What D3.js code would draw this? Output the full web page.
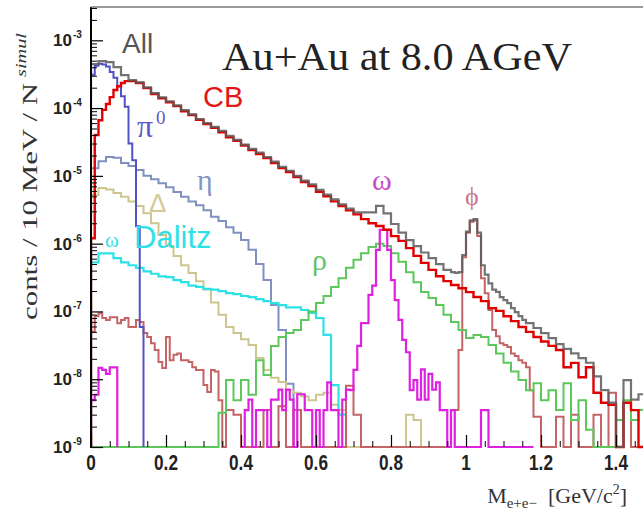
<!DOCTYPE html>
<html><head><meta charset="utf-8">
<script src="https://cdn.jsdelivr.net/npm/d3@7"></script>
<style>body{margin:0;background:#fff} svg{display:block}</style>
</head><body><svg id="c" width="643" height="514"></svg>
<script>
// ---------------- data (bin contents, dN/dM per 10 MeV / Nsimul) ----------------
// "All" : 0.02 GeV bins from 0.00, 0.01 GeV bins from 0.96, 0.02 GeV bins from 1.16
const allA = [4.45e-4,4.93e-4,4.77e-4,4.03e-4,3.07e-4,2.59e-4,2.4e-4,2.02e-4,1.66e-4,1.44e-4,1.26e-4,1.1e-4,9.3e-5,8.1e-5,6.9e-5,6.0e-5,5.3e-5,4.6e-5,3.9e-5,3.4e-5,2.9e-5,2.5e-5,2.2e-5,1.9e-5,1.62e-5,1.36e-5,1.19e-5,1.0e-5,8.5e-6,7.5e-6,6.2e-6,5.3e-6,4.5e-6,3.8e-6,3.3e-6,2.9e-6,2.9e-6,2.9e-6,3.6e-6,2.8e-6,1.95e-6,1.45e-6,1.13e-6,9.2e-7,7.4e-7,6.1e-7,5.0e-7,4.1e-7];
const allB = [3.8e-7,3.7e-7,3.8e-7,6.8e-7,1.5e-6,2.2e-6,2.3e-6,1.45e-6,4.8e-7,3.5e-7,2.6e-7,2.1e-7,1.94e-7,1.63e-7,1.47e-7,1.33e-7,1.12e-7,9.8e-8,8.5e-8,7.5e-8];
const allC = [6.7e-8,5.7e-8,4.8e-8,4.05e-8,3.3e-8,2.8e-8,2.4e-8,2.05e-8,1.75e-8,1.1e-8,6.9e-9,4.5e-9,0,9.7e-9,5e-9,6e-9];
// "CB" : 0.01 GeV bins from 0.00, then 0.02 GeV bins from 0.12
const cbA = [1.2e-6,4.0e-5,6.6e-5,9.4e-5,1.15e-4,1.45e-4,1.85e-4,2.1e-4,2.35e-4,2.5e-4,2.5e-4,2.5e-4];
const cbB = [2.34e-4,1.97e-4,1.61e-4,1.40e-4,1.22e-4,1.07e-4,9.0e-5,7.9e-5,6.7e-5,5.8e-5,5.1e-5,4.4e-5,3.7e-5,3.3e-5,2.8e-5,2.4e-5,2.1e-5,1.83e-5,1.55e-5,1.30e-5,1.14e-5,9.6e-6,8.1e-6,7.1e-6,5.8e-6,5.0e-6,4.2e-6,3.6e-6,3.1e-6,2.7e-6,2.3e-6,2.0e-6,1.82e-6,1.6e-6,1.29e-6,1.1e-6,8.6e-7,6.6e-7,5.2e-7,4.1e-7,3.3e-7,2.8e-7,2.45e-7,2.2e-7,1.93e-7,1.63e-7,1.42e-7,1.12e-7,1.02e-7,8.5e-8,7.2e-8,5.9e-8,5.0e-8,4.2e-8,3.6e-8,3.1e-8,2.7e-8,1.5e-8,1.74e-8,1.07e-8,1.5e-8,6.3e-9,4.5e-9,4.2e-9,0,4.5e-9,3.5e-9,0];
// pi0 : 0.01 GeV bins from 0.00
const pi0 = [3.1e-4,4.2e-4,4.5e-4,4.4e-4,4.1e-4,3.4e-4,2.8e-4,2.1e-4,1.5e-4,1.05e-4,3.0e-5,1.7e-5,1.8e-6,5.9e-8];
// eta : 0.02 GeV bins from 0.00
const eta = [1.3e-5,1.65e-5,1.9e-5,1.85e-5,1.55e-5,1.4e-5,1.22e-5,1.0e-5,8.9e-6,7.8e-6,6.8e-6,5.8e-6,4.9e-6,4.2e-6,3.7e-6,3.1e-6,2.5e-6,2.15e-6,1.75e-6,1.45e-6,1.13e-6,8.1e-7,5.0e-7,2.9e-7,1.24e-7,5.3e-8,8.6e-9];
// Delta : 0.02 GeV bins from 0.00
const delta = [5.2e-6,6.6e-6,6.3e-6,5.6e-6,4.9e-6,4.2e-6,3.6e-6,2.8e-6,2.0e-6,1.34e-6,9.2e-7,6.6e-7,4.8e-7,3.7e-7,2.8e-7,2.1e-7,1.36e-7,8.9e-8,5.9e-8,4.8e-8,3.9e-8,3.2e-8,2.05e-8,1.37e-8,1.05e-8,9.1e-9,6.9e-9,6.3e-9,5.6e-9,4.9e-9,5.9e-9,6.3e-9,4.2e-9,3.5e-9,0,0,0,0,0,0,0,0,3e-9,2.5e-9];
// omega Dalitz : 0.02 GeV bins from 0.00
const omegaDalitz = [5.3e-7,7.2e-7,7.2e-7,6.1e-7,5.3e-7,4.8e-7,4.4e-7,3.9e-7,3.6e-7,3.3e-7,3.2e-7,2.9e-7,2.7e-7,2.4e-7,2.3e-7,2.15e-7,2.1e-7,2.0e-7,1.86e-7,1.8e-7,1.69e-7,1.63e-7,1.52e-7,1.42e-7,1.33e-7,1.24e-7,1.15e-7,1.15e-7,1.05e-7,9.5e-8,8.0e-8,4.5e-8,8.2e-9,3.0e-9];
// rho : 0.02 GeV bins from 0.00
const rho = [0,0,0,0,0,0,0,0,0,0,0,0,0,0,0,0,0,3.2e-9,9.7e-9,4.9e-9,9.7e-9,5.9e-9,1.9e-8,1.15e-8,3.1e-8,4.2e-8,4.8e-8,5.3e-8,7.5e-8,1.0e-7,1.33e-7,1.69e-7,2.3e-7,3.1e-7,4.4e-7,5.8e-7,7.2e-7,8.9e-7,1.0e-6,9.2e-7,7.2e-7,5.4e-7,3.8e-7,2.7e-7,1.94e-7,1.58e-7,1.24e-7,8.9e-8,7.0e-8,5.3e-8,4.05e-8,4.5e-8,4.2e-8,3.2e-8,2.4e-8,1.75e-8,1.3e-8,9.7e-9,6.9e-9,8.7e-9,4.9e-9,6.9e-9,3.5e-9,8.7e-9,2.5e-9,4.9e-9,1.8e-9,0,0,0,2.5e-9,4.9e-9,2.5e-9,3.5e-9];
// omega : 0.01 GeV bins from 0.00 (low part) and from 0.40
const omegaLow = [4.9e-9,5.9e-9,1.47e-8,1.37e-8,1.2e-8,1.5e-8,1.5e-8];
const omegaMain = [0,3.5e-9,5e-9,0,3.5e-9,3.5e-9,3.5e-9,0,5e-9,5e-9,7e-9,3.5e-9,7e-9,5e-9,0,6e-9,6e-9,3.5e-9,3.5e-9,0,3.5e-9,0,3.5e-9,9e-9,3.5e-9,3.5e-9,0,5e-9,7e-9,6.9e-9,1.37e-8,3.1e-8,6.7e-8,6.7e-8,1.75e-7,2.4e-7,8.1e-7,1.6e-6,1.6e-6,8.1e-7,2.9e-7,1.47e-7,7.5e-8,3.8e-8,2.5e-8,6.9e-9,9.7e-9,5e-9,1.4e-8,5e-9,1.2e-8,7e-9,9e-9,3.5e-9,3.5e-9,0,3.5e-9,0,0,0,0,0,0,0,3.5e-9,3.5e-9,0,0,0,0,0,0,0,0,0,0,0,0];
// phi : 0.01 GeV bins from 0.00, 0.02 from 0.36, 0.01 from 0.96, 0.02 from 1.18
const phiLow = [5e-8,8.5e-8,9.4e-8,8.0e-8,7.5e-8,8.2e-8,8.2e-8,6.7e-8,7.5e-8,8.0e-8,5.9e-8,5.9e-8,7.5e-8,7.0e-8,4.8e-8,4.2e-8,3.4e-8,2.7e-8,1.8e-8,1.47e-8,4.2e-8,1.9e-8,2.3e-8,2.4e-8,1.9e-8,1.9e-8,1.8e-8,1.5e-8,1.37e-8,1.37e-8,8.2e-9,6.5e-9,1.37e-8,1.3e-8,4.9e-9,0];
const phiMid = [3.5e-9,3e-9,0,0,0,3.5e-9,0,4e-9,0,3.5e-9,0,0,0,0,0,0,8e-9,3e-9,0,0,0,0,0,0,0,0,0,0,0,0];
const phiPeak = [3.5e-9,3.5e-9,2.7e-8,6.3e-7,1.45e-6,2.1e-6,2.2e-6,1.3e-6,3.1e-7,1.86e-7,1.05e-7,5.3e-8,4.3e-8,3.4e-8,3.2e-8,3.0e-8,2.4e-8,2.2e-8,1.9e-8,1.75e-8,1.5e-8,6.9e-9];
const phiTail = [2.8e-9,0,0,2.8e-9,0,3e-9,0,0,3e-9,0,6.3e-9,0,4.5e-9,0,0];

const yTickExps = [-9,-8,-7,-6,-5,-4,-3];
const xTickVals = [0,0.2,0.4,0.6,0.8,1,1.2,1.4];
const xTickLabels = ["0","0.2","0.4","0.6","0.8","1","1.2","1.4"];

// ---------------- layout ----------------
const FLOOR = 1e-9;
const L = 91, T = 7, B = 447;
const x = d3.scaleLinear().domain([0, 1.5]).range([L, 653.5]);
const y = d3.scaleLog().domain([FLOOR, 3.1e-3]).range([B, T]).clamp(true);
const svg = d3.select('#c');
const SERIF = "'Liberation Serif','DejaVu Serif',serif";
const SANS = "'Liberation Sans',Arial,sans-serif";

svg.append('defs').append('clipPath').attr('id', 'clip')
  .append('rect').attr('x', L).attr('y', T - 2).attr('width', 643 - L).attr('height', B - T + 4);

const series = [
  {name: 'eta', color: '#8090c0', w: 2, segs: [{x0: 0, w: 0.02, v: eta}]},
  {name: 'delta', color: '#cdc68e', w: 2, segs: [{x0: 0, w: 0.02, v: delta}]},
  {name: 'omegaDalitz', color: '#2ce2e6', w: 2.2, segs: [{x0: 0, w: 0.02, v: omegaDalitz}]},
  {name: 'phi', color: '#c46464', w: 2, segs: [{x0: 0, w: 0.01, v: phiLow}, {x0: 0.36, w: 0.02, v: phiMid}, {x0: 0.96, w: 0.01, v: phiPeak}, {x0: 1.18, w: 0.02, v: phiTail}]},
  {name: 'rho', color: '#5cc85c', w: 2, segs: [{x0: 0, w: 0.02, v: rho}]},
  {name: 'pi0', color: '#5252c4', w: 2, segs: [{x0: 0, w: 0.01, v: pi0}]},
  {name: 'omegaLow', color: '#e020e0', w: 2.2, segs: [{x0: 0, w: 0.01, v: omegaLow}]},
  {name: 'omega', color: '#e020e0', w: 2.2, segs: [{x0: 0.40, w: 0.01, v: omegaMain}]},
  {name: 'cb', color: '#e00000', w: 2.4, segs: [{x0: 0, w: 0.01, v: cbA}, {x0: 0.12, w: 0.02, v: cbB}]},
  {name: 'all', color: '#5a5a5a', w: 2.2, op: 0.85, segs: [{x0: 0, w: 0.02, v: allA}, {x0: 0.96, w: 0.01, v: allB}, {x0: 1.16, w: 0.02, v: allC}]}
];

function binsOf(segs) {
  const out = [];
  segs.forEach(s => s.v.forEach((v, i) => out.push({x0: s.x0 + i * s.w, x1: s.x0 + (i + 1) * s.w, v})));
  return out;
}
function stepPoints(bins) {
  const f = v => (v > FLOOR ? v : FLOOR);
  const pts = [[bins[0].x0, FLOOR]];
  bins.forEach(b => pts.push([b.x0, f(b.v)]));
  const last = bins[bins.length - 1];
  pts.push([last.x1, f(last.v)]);
  pts.push([last.x1, FLOOR]);
  return pts;
}
const line = d3.line().x(d => x(d[0])).y(d => y(d[1])).curve(d3.curveStepAfter);

const plot = svg.append('g').attr('clip-path', 'url(#clip)');
series.forEach(s => {
  plot.append('path').attr('d', line(stepPoints(binsOf(s.segs))))
    .attr('fill', 'none').attr('stroke', s.color).attr('stroke-width', s.w)
    .attr('stroke-opacity', s.op || 1).attr('stroke-linejoin', 'miter');
});

// ---------------- axes ----------------
const yMajor = yTickExps.map(e => Math.pow(10, e));
const yMinor = [];
yTickExps.forEach(e => { for (let k = 2; k <= 9; k++) { const v = k * Math.pow(10, e); if (v < 3.1e-3) yMinor.push(v); } });
svg.append('g').attr('transform', `translate(${L},0)`)
  .call(d3.axisLeft(y).tickValues(yMajor).tickSize(-12).tickFormat(''))
  .call(g => g.select('.domain').remove()).selectAll('line').attr('stroke', '#000').attr('stroke-width', 1.2);
svg.append('g').attr('transform', `translate(${L},0)`)
  .call(d3.axisLeft(y).tickValues(yMinor).tickSize(-6).tickFormat(''))
  .call(g => g.select('.domain').remove()).selectAll('line').attr('stroke', '#000').attr('stroke-width', 1);
const xMinor = d3.range(0, 1.5, 0.05).filter(v => Math.abs(v / 0.2 - Math.round(v / 0.2)) > 1e-6);
svg.append('g').attr('transform', `translate(0,${B})`)
  .call(d3.axisBottom(x).tickValues(xTickVals).tickSize(-12).tickFormat(''))
  .call(g => g.select('.domain').remove()).selectAll('line').attr('stroke', '#000').attr('stroke-width', 1.2);
svg.append('g').attr('transform', `translate(0,${B})`)
  .call(d3.axisBottom(x).tickValues(xMinor).tickSize(-6).tickFormat(''))
  .call(g => g.select('.domain').remove()).selectAll('line').attr('stroke', '#000').attr('stroke-width', 1);

// frame
svg.append('line').attr('x1', L).attr('x2', L).attr('y1', T).attr('y2', B + 1).attr('stroke', '#000').attr('stroke-width', 2);
svg.append('line').attr('x1', L).attr('x2', 643).attr('y1', T).attr('y2', T).attr('stroke', '#777').attr('stroke-width', 1.5);

// y tick labels
yTickExps.forEach(e => {
  svg.append('text').attr('x', 72).attr('y', y(Math.pow(10, e)) + 6)
    .attr('text-anchor', 'end').attr('font-family', SANS).attr('font-weight', 'bold')
    .attr('font-size', 17).attr('fill', '#222').text('10');
  svg.append('text').attr('x', 73).attr('y', y(Math.pow(10, e)) - 2)
    .attr('font-family', SANS).attr('font-weight', 'bold').attr('font-size', 10).attr('fill', '#222').text(String(e));
});
// x tick labels
xTickVals.forEach((v, i) => {
  svg.append('text').attr('transform', `translate(${x(v)},470) scale(0.78,1)`)
    .attr('text-anchor', 'middle').attr('font-family', SANS).attr('font-weight', 'bold')
    .attr('font-size', 22).attr('fill', '#222').text(xTickLabels[i]);
});

// axis titles
const xl = svg.append('text').attr('x', 627).attr('y', 503).attr('text-anchor', 'end')
  .attr('font-family', SERIF).attr('font-size', 22).attr('fill', '#333');
xl.append('tspan').text('M');
xl.append('tspan').attr('font-size', 15).attr('dy', 5).text('e+e\u2212');
xl.append('tspan').attr('dy', -5).text('\u2002[GeV/c');
xl.append('tspan').attr('font-size', 14).attr('dy', -9).text('2');
xl.append('tspan').attr('dy', 9).text(']');

svg.append('text').attr('transform', 'translate(37,320) rotate(-90)')
  .attr('font-family', SERIF).attr('font-size', 22).attr('fill', '#333')
  .attr('textLength', 237).attr('lengthAdjust', 'spacingAndGlyphs').text('conts / 10 MeV / N');
svg.append('text').attr('transform', 'translate(26,77) rotate(-90)')
  .attr('font-family', SERIF).attr('font-style', 'italic').attr('font-size', 15).attr('fill', '#333')
  .attr('textLength', 44).attr('lengthAdjust', 'spacingAndGlyphs').text('simul');

// title
svg.append('text').attr('x', 222).attr('y', 70).attr('font-family', SERIF).attr('font-size', 40)
  .attr('fill', '#222').attr('textLength', 350).attr('lengthAdjust', 'spacingAndGlyphs').text('Au+Au at 8.0 AGeV');

// curve labels
function label(txt, xp, yp, size, color, fam) {
  return svg.append('text').attr('x', xp).attr('y', yp).attr('font-family', fam)
    .attr('font-size', size).attr('fill', color).text(txt);
}
label('All', 122, 53, 28, '#555', SANS);
label('CB', 203, 107, 29, '#e01818', SANS);
label('\u03c0', 137, 137, 32, '#5a5ac8', SERIF);
label('0', 156, 124, 19, '#5a5ac8', SERIF);
label('\u03b7', 197, 190, 30, '#8494c4', SERIF);
label('\u0394', 149, 212, 26, '#d2ca94', SANS);
label('\u03c9', 105, 247, 21, '#30e0e8', SERIF);
label('Dalitz', 134, 248, 31, '#30e0e8', SANS);
label('\u03c1', 312, 270, 30, '#66c266', SERIF);
label('\u03c9', 372, 190, 30, '#c84cc8', SERIF);
label('\u03d5', 465, 205, 26, '#c87888', SERIF);
</script></body></html>
